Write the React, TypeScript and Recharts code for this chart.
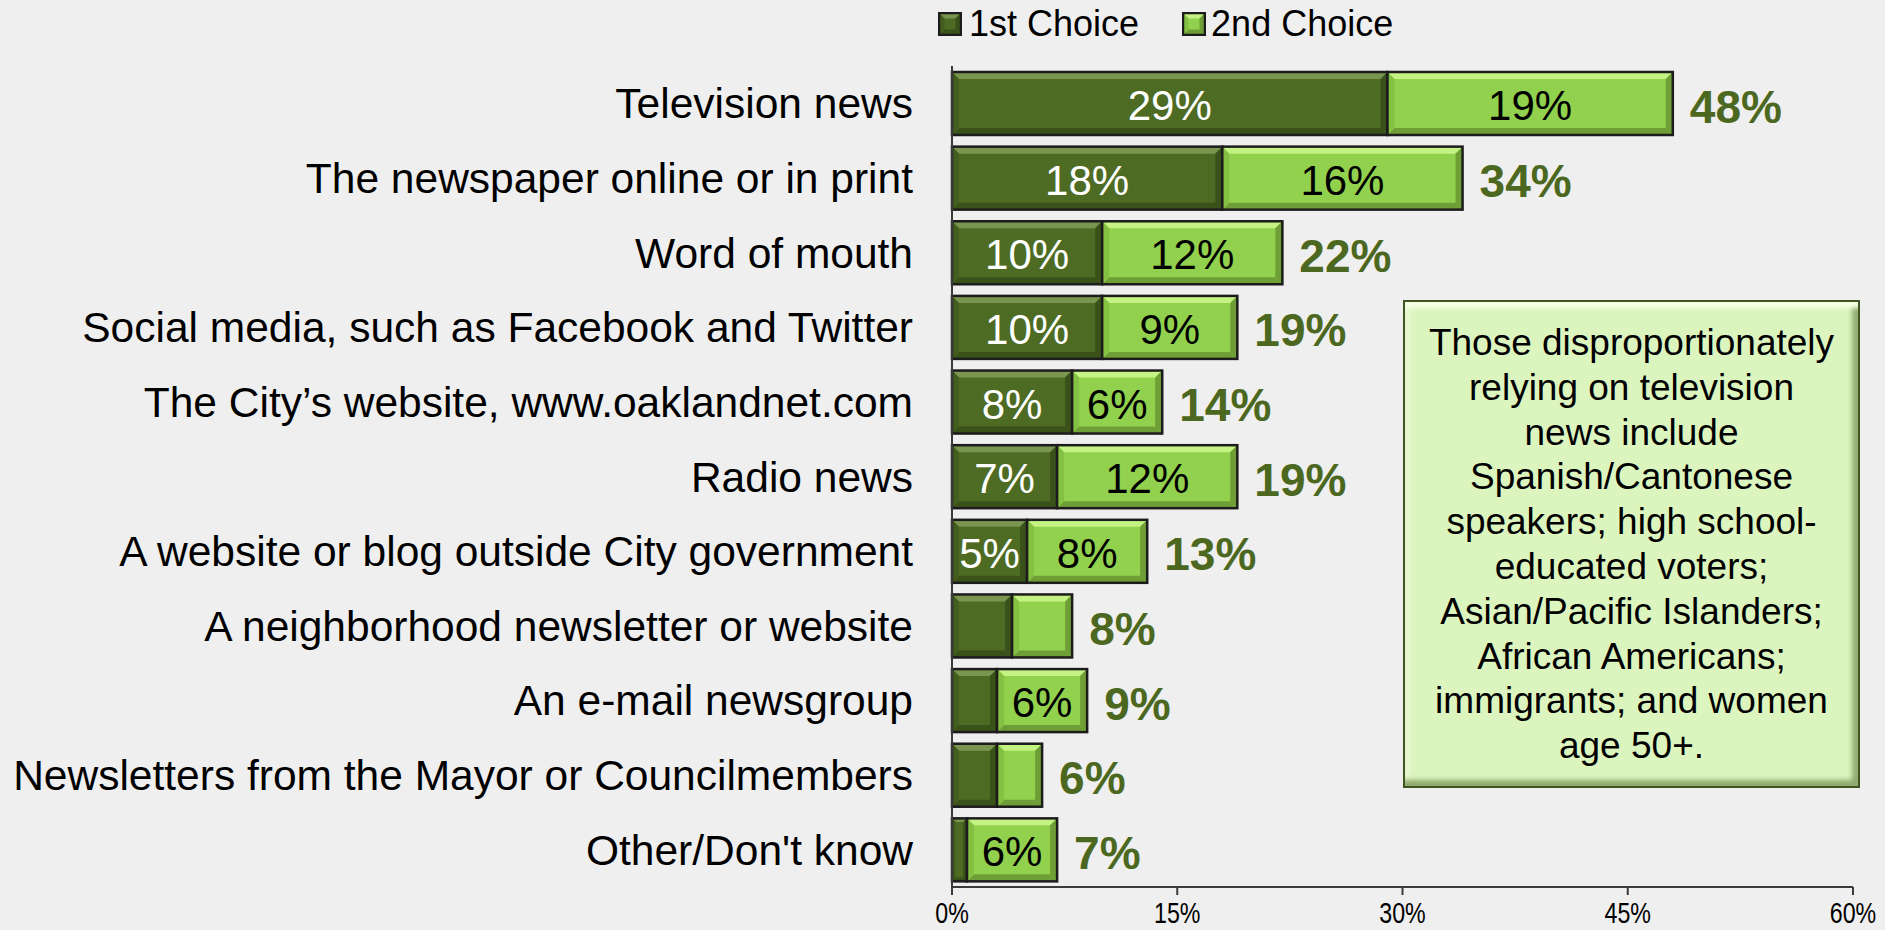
import React from 'react'
import { BarChart, Bar, XAxis, YAxis, LabelList } from 'recharts'

const categories = [
  'Television news',
  'The newspaper online or in print',
  'Word of mouth',
  'Social media, such as Facebook and Twitter',
  'The City\u2019s website, www.oaklandnet.com',
  'Radio news',
  'A website or blog outside City government',
  'A neighborhood newsletter or website',
  'An e-mail newsgroup',
  'Newsletters from the Mayor or Councilmembers',
  "Other/Don't know",
]
const firstChoice = [29, 18, 10, 10, 8, 7, 5, 4, 3, 3, 1]
const secondChoice = [19, 16, 12, 9, 6, 12, 8, 4, 6, 3, 6]
const totals = [48, 34, 22, 19, 14, 19, 13, 8, 9, 6, 7]
const xTicks = [0, 15, 30, 45, 60]

const noteLines = [
  'Those disproportionately',
  'relying on television',
  'news include',
  'Spanish/Cantonese',
  'speakers; high school-',
  'educated voters;',
  'Asian/Pacific Islanders;',
  'African Americans;',
  'immigrants; and women',
  'age 50+.',
]

const FONT = '"Liberation Sans", Arial, sans-serif'

const DARK = { base: '#4E6B24', top: '#7A9550', bottom: '#3A511A', side: '#435E1E' }
const LIGHT = { base: '#92D14D', top: '#C4F383', bottom: '#6E9E35', side: '#84C143' }

const data = categories.map((name, i) => ({
  name,
  first: firstChoice[i],
  second: secondChoice[i],
  total: totals[i],
}))

// eslint-disable-next-line @typescript-eslint/no-explicit-any
const bevelShape = (c: typeof DARK) => (props: any) => {
  const { x, y, width: w, height: h } = props
  if (!w || w <= 0) return <g />
  const b = Math.min(7, w / 4, h / 4)
  return (
    <g>
      <rect x={x} y={y} width={w} height={h} fill={c.base} />
      <polygon points={`${x},${y} ${x + w},${y} ${x + w - b},${y + b} ${x + b},${y + b}`} fill={c.top} />
      <polygon points={`${x},${y + h} ${x + w},${y + h} ${x + w - b},${y + h - b} ${x + b},${y + h - b}`} fill={c.bottom} />
      <polygon points={`${x},${y} ${x + b},${y + b} ${x + b},${y + h - b} ${x},${y + h}`} fill={c.side} />
      <polygon points={`${x + w},${y} ${x + w - b},${y + b} ${x + w - b},${y + h - b} ${x + w},${y + h}`} fill={c.bottom} />
      <rect x={x} y={y} width={w} height={h} fill="none" stroke="#1c1c1c" strokeWidth={2.5} />
    </g>
  )
}

// eslint-disable-next-line @typescript-eslint/no-explicit-any
const innerLabel = (color: string) => (props: any) => {
  const { x, y, width, height, value } = props
  if (value < 5) return null
  return (
    <text
      x={x + width / 2}
      y={y + height / 2 + 2}
      textAnchor="middle"
      dominantBaseline="central"
      fill={color}
      style={{ fontFamily: FONT, fontSize: 42 }}
    >
      {value}%
    </text>
  )
}

// eslint-disable-next-line @typescript-eslint/no-explicit-any
const totalLabel = (props: any) => {
  const { x, y, width, height, value } = props
  return (
    <text
      x={x + width + 17}
      y={y + height / 2 + 3}
      textAnchor="start"
      dominantBaseline="central"
      fill="#4C6820"
      style={{ fontFamily: FONT, fontSize: 46, fontWeight: 700 }}
    >
      {value}%
    </text>
  )
}

// narrow tick labels, squeezed like Arial Narrow
// eslint-disable-next-line @typescript-eslint/no-explicit-any
const NarrowTick = (props: any) => {
  const { x, y, payload } = props
  return (
    <text
      transform={`translate(${x},${y + 28}) scale(0.8,1)`}
      textAnchor="middle"
      fill="#000"
      style={{ fontFamily: FONT, fontSize: 29 }}
    >
      {payload.value}%
    </text>
  )
}

const LegendSwatch = ({ c }: { c: typeof DARK }) => (
  <svg width={24} height={24} style={{ display: 'block' }}>
    {bevelShape(c)({ x: 1, y: 1, width: 22, height: 22 })}
  </svg>
)

export default function App() {
  return (
    <div
      style={{
        position: 'fixed',
        left: 0,
        top: 0,
        width: 1885,
        height: 930,
        background: '#EFEFEF',
        fontFamily: FONT,
        overflow: 'hidden',
      }}
    >
      <div
        style={{
          position: 'absolute',
          top: 0,
          left: 938,
          height: 48,
          display: 'flex',
          alignItems: 'center',
          fontSize: 36,
          color: '#000',
        }}
      >
        <LegendSwatch c={DARK} />
        <span style={{ marginLeft: 7 }}>1st Choice</span>
        <span style={{ marginLeft: 43 }}>
          <LegendSwatch c={LIGHT} />
        </span>
        <span style={{ marginLeft: 5 }}>2nd Choice</span>
      </div>

      <BarChart
        width={1885}
        height={930}
        data={data}
        layout="vertical"
        margin={{ top: 66, right: 32, bottom: 0, left: 0 }}
        barSize={63}
      >
        <XAxis
          type="number"
          domain={[0, 60]}
          ticks={xTicks}
          axisLine={{ stroke: '#3a3a3a', strokeWidth: 2 }}
          tickLine={{ stroke: '#3a3a3a', strokeWidth: 2 }}
          tickSize={8}
          tickMargin={0}
          height={43}
          interval={0}
          tick={<NarrowTick />}
        />
        <YAxis
          type="category"
          dataKey="name"
          width={952}
          axisLine={{ stroke: '#3a3a3a', strokeWidth: 2 }}
          tickLine={false}
          tickSize={0}
          tickMargin={39}
          interval={0}
          tick={{ fill: '#000', fontSize: 42.5, fontFamily: FONT }}
        />
        <Bar dataKey="first" stackId="a" isAnimationActive={false} shape={bevelShape(DARK)}>
          <LabelList dataKey="first" content={innerLabel('#ffffff')} />
        </Bar>
        <Bar dataKey="second" stackId="a" isAnimationActive={false} shape={bevelShape(LIGHT)}>
          <LabelList dataKey="second" content={innerLabel('#000000')} />
          <LabelList dataKey="total" content={totalLabel} />
        </Bar>
      </BarChart>

      <div
        style={{
          position: 'absolute',
          left: 1403,
          top: 300,
          width: 457,
          height: 488,
          boxSizing: 'border-box',
          background: '#DCF5BF',
          border: '2px solid #3F5620',
          boxShadow:
            'inset 0 9px 4px -3px #F6FFE6, inset 0 -9px 5px -3px #8FA86C, inset 8px 0 5px -4px #EAFBD6, inset -9px 0 5px -3px #92AC70',
          paddingTop: 19,
          textAlign: 'center',
          fontSize: 37,
          lineHeight: '44.8px',
          color: '#000',
        }}
      >
        {noteLines.map((l, i) => (
          <div key={i} style={{ whiteSpace: 'nowrap' }}>
            {l}
          </div>
        ))}
      </div>
    </div>
  )
}
